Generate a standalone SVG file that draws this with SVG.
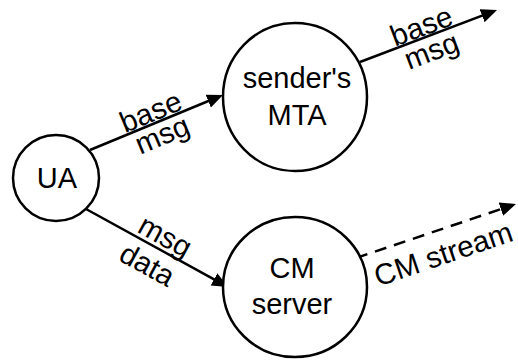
<svg xmlns="http://www.w3.org/2000/svg" width="518" height="360" viewBox="0 0 518 360">
  <style>
    .node { fill: #ffffff; stroke: #000000; stroke-width: 2.5; }
    .lbl { font-family: "Liberation Sans", Arial, sans-serif; font-size: 29px; fill: #000000; text-anchor: middle; }
    .elbl { font-family: "Liberation Sans", Arial, sans-serif; font-size: 29.5px; fill: #000000; text-anchor: middle; }
    .edge { fill: none; stroke: #000000; stroke-width: 2.5; marker-end: url(#arrow); }
    .dashed { stroke-dasharray: 12 8; }
  </style>
  <defs>
    <marker id="arrow" markerUnits="userSpaceOnUse" markerWidth="18" markerHeight="16" viewBox="0 0 18 16" refX="12" refY="7" orient="auto">
      <path d="M0,0 L16,7 L0,14 z" fill="#000000"/>
    </marker>
  </defs>

  <!-- connectors -->
  <g id="edges">
    <line class="edge" x1="90" y1="150" x2="219.3" y2="96.5"/>
    <line class="edge" x1="360" y1="62" x2="493.3" y2="11.4"/>
    <line class="edge" x1="86" y1="209" x2="224.5" y2="285.1"/>
    <line class="edge dashed" x1="356" y1="258" x2="512.2" y2="205.3"/>

    <text class="elbl" transform="translate(154.5,121) rotate(-22.5)">base</text>
    <text class="elbl" transform="translate(166,144) rotate(-22.5)">msg</text>
    <text class="elbl" transform="translate(425,35.5) rotate(-20.8)">base</text>
    <text class="elbl" transform="translate(435,60) rotate(-20.8)">msg</text>
    <text class="elbl" transform="translate(160.5,245) rotate(28.8)">msg</text>
    <text class="elbl" transform="translate(142.5,273.5) rotate(28.8)">data</text>
    <text class="elbl" transform="translate(446.5,263.5) rotate(-18.75)">CM stream</text>
  </g>

  <g id="ua">
    <circle class="node" cx="56" cy="178" r="43"/>
    <text class="lbl" x="57" y="188">UA</text>
  </g>

  <g id="mta">
    <ellipse class="node" cx="295" cy="97" rx="72" ry="74"/>
    <text class="lbl" x="297" y="88">sender's</text>
    <text class="lbl" x="297" y="125">MTA</text>
  </g>

  <g id="cm-server">
    <ellipse class="node" cx="295" cy="287" rx="72" ry="70"/>
    <text class="lbl" x="292" y="278">CM</text>
    <text class="lbl" x="292" y="314">server</text>
  </g>
</svg>
